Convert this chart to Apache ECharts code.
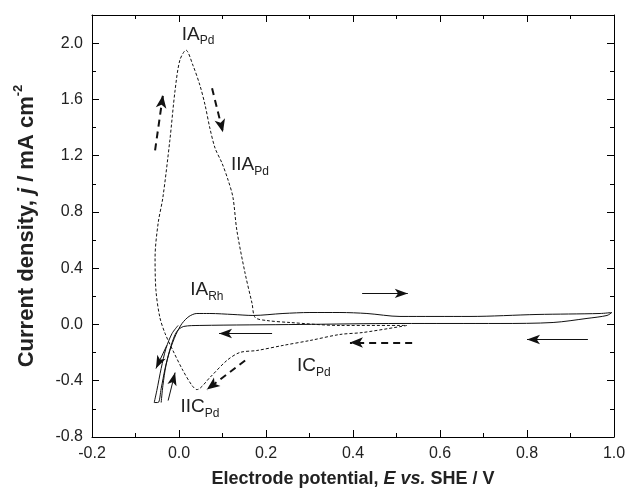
<!DOCTYPE html>
<html>
<head>
<meta charset="utf-8">
<script src="https://cdn.jsdelivr.net/npm/echarts@6/dist/echarts.min.js"></script>
<style>
  html, body { margin: 0; padding: 0; background: #fff; }
  #chart { width: 632px; height: 495px; }
</style>
</head>
<body>
<div id="chart"></div>
<script>
/* Pd 电极 (虚线) */
var pdE = [0.524, 0.423, 0.370, 0.301, 0.239, 0.179, 0.140, 0.110, 0.071, 0.041, 0.030, 0.009, -0.014, -0.032, -0.044, -0.053, -0.055, -0.048, -0.037, -0.021, -0.009, 0.002, 0.016, 0.032, 0.048, 0.060, 0.071, 0.083, 0.099, 0.113, 0.124, 0.133, 0.152, 0.168, 0.175, 0.202, 0.255, 0.370, 0.524];
var pdJ = [-0.007, -0.057, -0.071, -0.114, -0.149, -0.185, -0.199, -0.256, -0.377, -0.463, -0.434, -0.327, -0.185, -0.064, 0.050, 0.242, 0.477, 0.719, 0.904, 1.310, 1.665, 1.879, 1.950, 1.843, 1.701, 1.559, 1.395, 1.253, 1.146, 1.025, 0.904, 0.669, 0.363, 0.149, 0.050, 0.028, 0.014, -0.007, -0.007];

/* Rh 电极 (实线) */
var rhE = [-0.002, -0.016, -0.030, -0.041, -0.051, -0.057, -0.048, -0.041, -0.032, -0.021, -0.007, 0.007, 0.023, 0.041, 0.071, 0.124, 0.170, 0.239, 0.301, 0.370, 0.432, 0.508, 0.669, 0.823, 0.968, 0.995, 0.984, 0.938, 0.860, 0.738, 0.508, 0.278, 0.048, 0.011, -0.005, -0.018, -0.030, -0.037, -0.041];
var rhJ = [-0.007, -0.064, -0.171, -0.313, -0.470, -0.555, -0.555, -0.456, -0.313, -0.185, -0.071, 0.007, 0.057, 0.078, 0.078, 0.071, 0.064, 0.078, 0.085, 0.085, 0.078, 0.057, 0.057, 0.071, 0.078, 0.085, 0.064, 0.043, 0.014, 0.007, 0.007, 0.000, -0.007, -0.014, -0.050, -0.149, -0.292, -0.434, -0.555];

/* 箭头 [E1, j1, E2, j2] */
var pdArrows = [
  [-0.055, 1.238, -0.037, 1.630],
  [0.076, 1.679, 0.101, 1.367],
  [0.536, -0.128, 0.393, -0.128],
  [0.152, -0.256, 0.064, -0.463]
];
var rhArrows = [
  [0.421, 0.221, 0.526, 0.221],
  [0.940, -0.107, 0.800, -0.107],
  [0.214, -0.064, 0.092, -0.064],
  [-0.028, -0.149, -0.053, -0.313],
  [-0.025, -0.541, -0.009, -0.342]
];

/* 峰标注 [主, 下标, E, j] */
var pdPeaks = [
  ['IA', 'Pd', 0.044, 2.05],
  ['IIA', 'Pd', 0.163, 1.125],
  ['IC', 'Pd', 0.310, -0.306],
  ['IIC', 'Pd', 0.048, -0.598]
];
var rhPeaks = [
  ['IA', 'Rh', 0.064, 0.235]
];

var xTicks = { min: -0.2, max: 1.0, interval: 0.2 };
var yTicks = { min: -0.8, max: 2.2, interval: 0.4 };

var FONT = "'Liberation Sans', Arial, sans-serif";

function zip (a, b) {
  return a.map(function (v, i) { return [v, b[i]]; });
}

function arrowLines (list) {
  return list.map(function (a) {
    return [{ coord: [a[0], a[1]] }, { coord: [a[2], a[3]] }];
  });
}

var peakRich = {
  m: { fontSize: 19, fontFamily: FONT, color: '#222', lineHeight: 22, verticalAlign: 'top' },
  s: { fontSize: 12, fontFamily: FONT, color: '#222', lineHeight: 12, verticalAlign: 'bottom' }
};

function peakPoints (list) {
  return list.map(function (p) {
    return {
      coord: [p[2], p[3]],
      label: { formatter: '{m|' + p[0] + '}{s|' + p[1] + '}' }
    };
  });
}

function axisX (pos, showLabel) {
  return {
    type: 'value',
    position: pos,
    min: xTicks.min, max: xTicks.max, interval: xTicks.interval,
    axisLine: { onZero: false, lineStyle: { color: '#000', width: 1 } },
    axisTick: { inside: true, length: 7, lineStyle: { color: '#000' } },
    minorTick: { show: true, splitNumber: 2, length: 4, lineStyle: { color: '#000' } },
    splitLine: { show: false },
    axisLabel: {
      show: showLabel, margin: 9, fontSize: 16, fontFamily: FONT, color: '#222',
      formatter: function (v) { return v.toFixed(1); }
    }
  };
}

function axisY (pos, showLabel) {
  return {
    type: 'value',
    position: pos,
    min: yTicks.min, max: yTicks.max, interval: yTicks.interval,
    axisLine: { onZero: false, lineStyle: { color: '#000', width: 1 } },
    axisTick: { inside: true, length: 7, lineStyle: { color: '#000' } },
    minorTick: { show: true, splitNumber: 2, length: 4, lineStyle: { color: '#000' } },
    splitLine: { show: false },
    axisLabel: {
      show: showLabel, margin: 9, fontSize: 16, fontFamily: FONT, color: '#222',
      showMaxLabel: false, // 顶部2.2不显示
      formatter: function (v) { return v > 2.1 ? '' : v.toFixed(1); }
    }
  };
}

var myChart = echarts.init(document.getElementById('chart'));

var xMain = axisX('bottom', true);
xMain.name = '{b|Electrode potential, }{i|E vs.}{b| SHE / V}';
xMain.nameLocation = 'middle';
xMain.nameGap = 33;
xMain.nameTextStyle = {
  rich: {
    b: { fontSize: 18, fontWeight: 'bold', fontFamily: FONT, color: '#222' },
    i: { fontSize: 18, fontWeight: 'bold', fontStyle: 'italic', fontFamily: FONT, color: '#222' }
  }
};

var yMain = axisY('left', true);
yMain.name = '{b|Current density, }{i|j}{b| / mA cm}{p|-2}';
yMain.nameLocation = 'middle';
yMain.nameGap = 54;
yMain.nameRotate = 90;
yMain.nameTextStyle = {
  rich: {
    b: { fontSize: 22, fontWeight: 'bold', fontFamily: FONT, color: '#222', lineHeight: 26, verticalAlign: 'bottom' },
    i: { fontSize: 22, fontWeight: 'bold', fontStyle: 'italic', fontFamily: FONT, color: '#222', lineHeight: 26, verticalAlign: 'bottom' },
    p: { fontSize: 13, fontWeight: 'bold', fontFamily: FONT, color: '#222', lineHeight: 26, verticalAlign: 'top', padding: [0, 0, 10, 0] }
  }
};

var option = {
  backgroundColor: '#fff',
  animation: false,
  grid: { left: 92, right: 18, top: 15, bottom: 58, containLabel: false },
  xAxis: [xMain, axisX('top', false)],
  yAxis: [yMain, axisY('right', false)],
  series: [
    {
      name: 'Pd',
      type: 'line',
      xAxisIndex: 0, yAxisIndex: 0,
      data: zip(pdE, pdJ),
      smooth: 0.3,
      symbol: 'none',
      silent: true,
      lineStyle: { color: '#111', width: 1, type: [3, 2] },
      markLine: {
        silent: true,
        symbol: ['none', 'arrow'],
        symbolSize: [8, 13],
        label: { show: false },
        lineStyle: { color: '#111', width: 2, type: [7, 5] },
        data: arrowLines(pdArrows)
      },
      markPoint: {
        silent: true,
        symbol: 'circle',
        symbolSize: 0,
        label: { show: true, position: 'inside', rich: peakRich },
        data: peakPoints(pdPeaks)
      }
    },
    {
      name: 'Rh',
      type: 'line',
      xAxisIndex: 0, yAxisIndex: 0,
      data: zip(rhE, rhJ),
      smooth: 0.3,
      symbol: 'none',
      silent: true,
      lineStyle: { color: '#111', width: 1 },
      markLine: {
        silent: true,
        symbol: ['none', 'arrow'],
        symbolSize: [7, 13],
        label: { show: false },
        lineStyle: { color: '#111', width: 1, type: 'solid' },
        data: arrowLines(rhArrows)
      },
      markPoint: {
        silent: true,
        symbol: 'circle',
        symbolSize: 0,
        label: { show: true, position: 'inside', rich: peakRich },
        data: peakPoints(rhPeaks)
      }
    }
  ]
};

myChart.setOption(option);
</script>
</body>
</html>
